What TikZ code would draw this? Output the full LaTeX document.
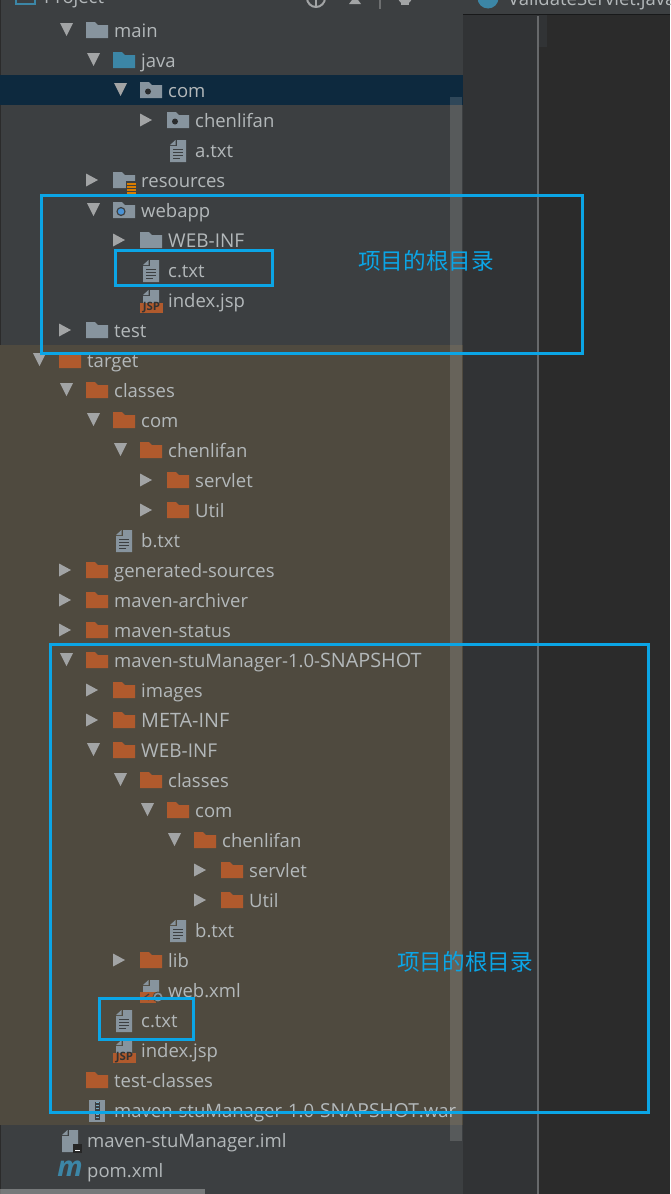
\documentclass[tikz,border=0pt]{standalone}
\usepackage{fontspec}
\setmainfont{Open Sans}
\newfontfamily\cjk{Noto Sans CJK SC}
\definecolor{panel}{HTML}{3C3F41}
\definecolor{gutter}{HTML}{313335}
\definecolor{editor}{HTML}{2B2B2B}
\definecolor{rowsel}{HTML}{0D293E}
\definecolor{tgtbg}{HTML}{4F4A3F}
\definecolor{tx}{HTML}{B3B8BA}
\definecolor{arrowc}{HTML}{A2A4A5}
\definecolor{grayf}{HTML}{87949E}
\definecolor{orangef}{HTML}{B05A2D}
\definecolor{bluef}{HTML}{3C86A6}
\definecolor{hl}{HTML}{0BA5E6}
\tikzset{
 rowtext/.style={anchor=base west,inner sep=0pt,text=tx,font=\fontsize{18.5}{19}\selectfont},
 mark box/.style={draw=hl,line width=3pt,fill=none,line join=miter},
 cjklabel/.style={anchor=center,inner sep=0pt,text=hl,font=\cjk\fontsize{22.6}{23}\selectfont},
}
\newcommand\Cp[2]{{\fontsize{#1}{19}\selectfont #2}}
\newcommand\Dn{\fill[arrowc] (-54,-7)--(-41,-7)--(-47.5,6)--cycle;}
\newcommand\Rt{\fill[arrowc] (-55,-6.5)--(-43,0)--(-55,6.5)--cycle;}
\newcommand\Fld[1]{\fill[#1] (-28,-8)--(-19,-8)--(-16,-5)--(-6,-5)--(-6,8)--(-28,8)--cycle;}
\newcommand\Pkg{\Fld{grayf}\fill[panel!70!black] (-20,1.5) circle (3);}
\newcommand\Web{\Fld{grayf}\fill[panel] (-20,1.5) circle (4.6);\fill[cyan!60!blue!75!white] (-20,1.5) circle (3.2);}
\newcommand\Res{\Fld{grayf}\fill[panel] (-15,1) rectangle (-4,14);
 \foreach \q in {2.5,5.5,8.5,11.5}{\fill[orange!85!yellow!85!black] (-14,\q) rectangle (-5,\q+2);}}
\newcommand\Pagef{\fill[grayf] (-25,-4)--(-25,12)--(-9,12)--(-9,-10)--(-18,-10)--(-18,-4)--cycle;
 \fill[grayf] (-25,-5)--(-19.5,-10)--(-19.5,-5)--cycle;}
\newcommand\Txt{\Pagef
 \foreach \q in {-1,2,5}{\draw[panel,line width=1pt] (-22,\q)--(-12,\q);}
 \draw[panel,line width=1pt] (-22,8)--(-15,8);}
\newcommand\Jsp{\fill[grayf] (-25,-4)--(-25,3)--(-9,3)--(-9,-10)--(-18,-10)--(-18,-4)--cycle;
 \fill[grayf] (-25,-5)--(-19.5,-10)--(-19.5,-5)--cycle;
 \fill[orangef] (-28,3) rectangle (-5,13);
 \node[anchor=center,inner sep=0pt,text=black!80,font=\bfseries\fontsize{11.5}{12}\selectfont] at (-16.5,8) {JSP};}
\newcommand\Xml{\fill[grayf] (-25,-4)--(-25,3)--(-9,3)--(-9,-10)--(-18,-10)--(-18,-4)--cycle;
 \fill[grayf] (-25,-5)--(-19.5,-10)--(-19.5,-5)--cycle;
 \fill[orangef] (-28,2) rectangle (-12,13);
 \fill[tgtbg] (-10,7) circle (5.5);\draw[grayf,line width=1.6pt] (-10,7) circle (3.6);
 \draw[black!75,line width=1.2pt] (-19,4)--(-23,7)--(-19,10);}
\newcommand\War{\fill[grayf] (-25,-10) rectangle (-9,12);
 \fill[panel] (-19.5,-8) rectangle (-14.5,10);
 \foreach \q in {-8,-5,...,8}{\fill[bluef!70!white] (-18.5,\q) rectangle (-15.5,\q+1.4);}}
\newcommand\Iml{\Pagef\fill[black!85] (-14,4) rectangle (-5,13);\fill[white] (-12,10) rectangle (-7,11);}
\newcommand\Pom{\node[anchor=center,inner sep=0pt,text=bluef,font=\bfseries\itshape\fontsize{28}{28}\selectfont] at (-17,-1) {m};}
\newcommand\Row[6]{\begin{scope}[shift={(#2,#3)}]#4#5\node[rowtext] (#1) at (0,7.2) {#6};\end{scope}}
\begin{document}
\begin{tikzpicture}[x=1pt,y=-1pt]
\useasboundingbox (0,0) rectangle (670,1194);
\clip (0,0) rectangle (670,1194);
% backgrounds
\fill[editor] (0,0) rectangle (670,1194);
\fill[gutter] (463,15) rectangle (538,1194);
\fill[gutter] (538,15) rectangle (547,47);
\fill[panel] (0,0) rectangle (463,1194);
\fill[panel] (463,0) rectangle (670,14);
\draw[black!60!panel,line width=1pt] (463,14.5)--(670,14.5);
\draw[editor,line width=1pt] (0.5,0)--(0.5,1194);
\fill[rowsel] (0,75) rectangle (463,105);
\fill[tgtbg] (0,345) rectangle (463,1125);
\fill[white!55!panel,opacity=.55] (0,1189) rectangle (205,1194);
\draw[white!22!panel,line width=2pt] (538,16)--(538,1194);
% top bar, cut by the picture's edge
\draw[bluef,line width=2pt] (16,-6) rectangle (35,4);
\node[rowtext,anchor=base west] (proj) at (44,3) {Project};
\draw[arrowc,line width=2pt] (316,-2) circle (9);
\draw[arrowc,line width=2pt] (316,-10)--(316,7);
\fill[arrowc] (349,4)--(361,4)--(355,-4)--cycle;
\draw[white!25!panel,line width=1.5pt] (380,0)--(380,9);
\fill[arrowc] (405,-3) circle (7);\fill[arrowc] (401,3) rectangle (409,5);
\fill[bluef] (488,-2) circle (10.5);
\node[rowtext,anchor=base west] (tab) at (508,5) {ValidateServlet.java};
% tree
\Row{main}{114}{30}{\Dn}{\Fld{grayf}}{main}
\Row{java}{141}{60}{\Dn}{\Fld{bluef}}{java}
\Row{comA}{168}{90}{\Dn}{\Pkg}{com}
\Row{chenA}{195}{120}{\Rt}{\Pkg}{chenlifan}
\Row{atxt}{195}{150}{}{\Txt}{a.txt}
\Row{res}{141}{180}{\Rt}{\Res}{resources}
\Row{webapp}{141}{210}{\Dn}{\Web}{webapp}
\Row{webinfA}{168}{240}{\Rt}{\Fld{grayf}}{\Cp{19}{WEB-INF}}
\Row{ctxtA}{168}{270}{}{\Txt}{c.txt}
\Row{jspA}{168}{300}{}{\Jsp}{index.jsp}
\Row{test}{114}{330}{\Rt}{\Fld{grayf}}{test}
\Row{target}{87}{360}{\Dn}{\Fld{orangef}}{target}
\Row{classesA}{114}{390}{\Dn}{\Fld{orangef}}{classes}
\Row{comB}{141}{420}{\Dn}{\Fld{orangef}}{com}
\Row{chenB}{168}{450}{\Dn}{\Fld{orangef}}{chenlifan}
\Row{servA}{195}{480}{\Rt}{\Fld{orangef}}{servlet}
\Row{utilA}{195}{510}{\Rt}{\Fld{orangef}}{Util}
\Row{btxtA}{141}{540}{}{\Txt}{b.txt}
\Row{gen}{114}{570}{\Rt}{\Fld{orangef}}{generated-sources}
\Row{arch}{114}{600}{\Rt}{\Fld{orangef}}{maven-archiver}
\Row{stat}{114}{630}{\Rt}{\Fld{orangef}}{maven-status}
\Row{snap}{114}{660}{\Dn}{\Fld{orangef}}{maven-stuManager-1.0-\Cp{19.8}{SNAPSHOT}}
\Row{img}{141}{690}{\Rt}{\Fld{orangef}}{images}
\Row{meta}{141}{720}{\Rt}{\Fld{orangef}}{\Cp{19.8}{META-INF}}
\Row{webinfB}{141}{750}{\Dn}{\Fld{orangef}}{\Cp{19}{WEB-INF}}
\Row{classesB}{168}{780}{\Dn}{\Fld{orangef}}{classes}
\Row{comC}{195}{810}{\Dn}{\Fld{orangef}}{com}
\Row{chenC}{222}{840}{\Dn}{\Fld{orangef}}{chenlifan}
\Row{servB}{249}{870}{\Rt}{\Fld{orangef}}{servlet}
\Row{utilB}{249}{900}{\Rt}{\Fld{orangef}}{Util}
\Row{btxtB}{195}{930}{}{\Txt}{b.txt}
\Row{lib}{168}{960}{\Rt}{\Fld{orangef}}{lib}
\Row{webxml}{168}{990}{}{\Xml}{web.xml}
\Row{ctxtB}{141}{1020}{}{\Txt}{c.txt}
\Row{jspB}{141}{1050}{}{\Jsp}{index.jsp}
\Row{tclass}{114}{1080}{}{\Fld{orangef}}{test-classes}
\Row{war}{114}{1110}{}{\War}{maven-stuManager-1.0-\Cp{19.3}{SNAPSHOT}.war}
\Row{iml}{87}{1140}{}{\Iml}{maven-stuManager.iml}
\Row{pom}{87}{1170}{}{\Pom}{pom.xml}
% scrollbar
\fill[white,opacity=.14] (450,97) rectangle (462,1141);
% annotations
\draw[mark box] (41.5,195.5) rectangle (582,353);
\draw[mark box] (115.5,250) rectangle (272.5,285);
\draw[mark box] (50,644) rectangle (648.5,1112);
\draw[mark box] (99.5,998.5) rectangle (193.5,1039.5);
\node[cjklabel] (rootA) at (426,261) {项目的根目录};
\node[cjklabel] (rootB) at (465,962) {项目的根目录};
\end{tikzpicture}
\end{document}
